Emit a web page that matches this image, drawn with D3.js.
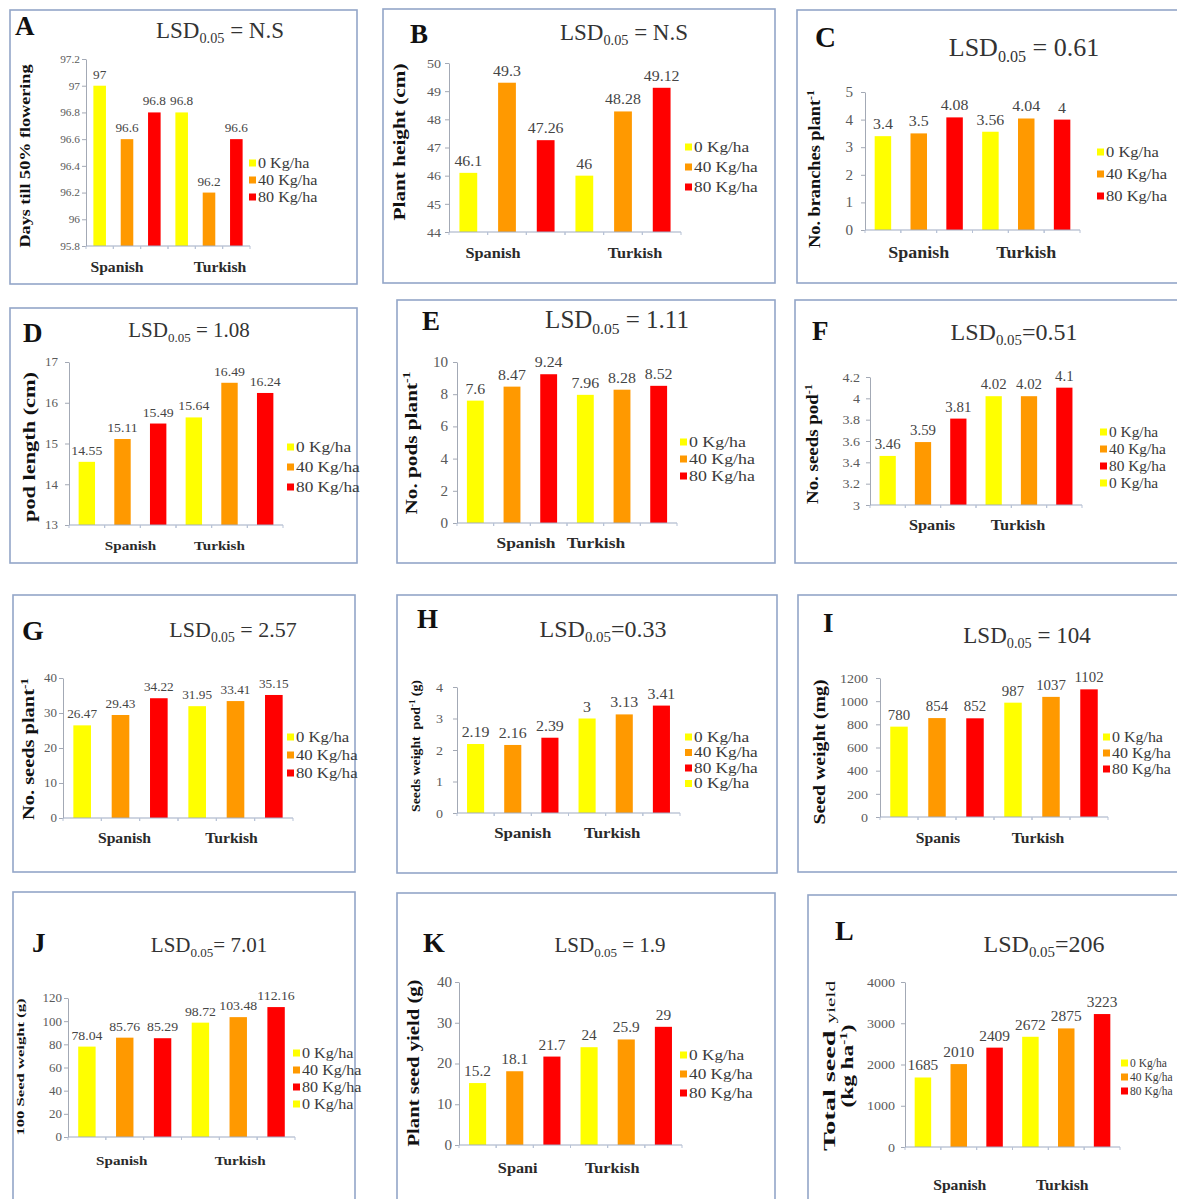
<!DOCTYPE html>
<html>
<head>
<meta charset="utf-8">
<script src="https://cdn.jsdelivr.net/npm/d3@7"></script>
<style>
  body { margin: 0; background: #fff; }
  text { font-family: "Liberation Serif", "Times New Roman", serif; white-space: pre; }
</style>
</head>
<body>
<script>
// data
var doseColors = ["#ffff00", "#ff9900", "#ff0000"];

var catsFull = ["Spanish", "Turkish"];
var catsF = ["Spanis", "Turkish"];
var catsI = ["Spanis", "Turkish"];
var catsK = ["Spani", "Turkish"];

var legend3 = ["0 Kg/ha", "40 Kg/ha", "80 Kg/ha"];
var legend3Idx = [0, 1, 2];
var legend4 = ["0 Kg/ha", "40 Kg/ha", "80 Kg/ha", "0 Kg/ha"];
var legend4Idx = [0, 1, 2, 0];

var panelLetters = ["A", "B", "C", "D", "E", "F", "G", "H", "I", "J", "K", "L"];
var lsdTexts = [" = N.S", " = N.S", " = 0.61", " = 1.08", " = 1.11", "=0.51",
                " = 2.57", "=0.33", " = 104", "= 7.01", " = 1.9", "=206"];

// [Spanish: 0, 40, 80], [Turkish: 0, 40, 80]
var valuesA = [[97, 96.6, 96.8], [96.8, 96.2, 96.6]];
var valuesB = [[46.1, 49.3, 47.26], [46, 48.28, 49.12]];
var valuesC = [[3.4, 3.5, 4.08], [3.56, 4.04, 4]];
var valuesD = [[14.55, 15.11, 15.49], [15.64, 16.49, 16.24]];
var valuesE = [[7.6, 8.47, 9.24], [7.96, 8.28, 8.52]];
var valuesF = [[3.46, 3.59, 3.81], [4.02, 4.02, 4.1]];
var valuesG = [[26.47, 29.43, 34.22], [31.95, 33.41, 35.15]];
var valuesH = [[2.19, 2.16, 2.39], [3, 3.13, 3.41]];
var valuesI = [[780, 854, 852], [987, 1037, 1102]];
var valuesJ = [[78.04, 85.76, 85.29], [98.72, 103.48, 112.16]];
var valuesK = [[15.2, 18.1, 21.7], [24, 25.9, 29]];
var valuesL = [[1685, 2010, 2409], [2672, 2875, 3223]];

var ticksA = ["95.8", "96", "96.2", "96.4", "96.6", "96.8", "97", "97.2"];
var ticksB = ["44", "45", "46", "47", "48", "49", "50"];
var ticksC = ["0", "1", "2", "3", "4", "5"];
var ticksD = ["13", "14", "15", "16", "17"];
var ticksE = ["0", "2", "4", "6", "8", "10"];
var ticksF = ["3", "3.2", "3.4", "3.6", "3.8", "4", "4.2"];
var ticksG = ["0", "10", "20", "30", "40"];
var ticksH = ["0", "1", "2", "3", "4"];
var ticksI = ["0", "200", "400", "600", "800", "1000", "1200"];
var ticksJ = ["0", "20", "40", "60", "80", "100", "120"];
var ticksK = ["0", "10", "20", "30", "40"];
var ticksL = ["0", "1000", "2000", "3000", "4000"];

// axis titles: lines of [text, kind]  kind 0 normal, 1 superscript, 2 small
var yTitleA = [[["Days till 50% flowering", 0]]];
var yTitleB = [[["Plant height (cm)", 0]]];
var yTitleC = [[["No. branches plant", 0], ["-1", 1]]];
var yTitleD = [[["pod length (cm)", 0]]];
var yTitleE = [[["No. pods plant", 0], ["-1", 1]]];
var yTitleF = [[["No. seeds pod", 0], ["-1", 1]]];
var yTitleG = [[["No. seeds plant", 0], ["-1", 1]]];
var yTitleH = [[["Seeds weight  pod", 0], ["-1", 1], [" (g)", 0]]];
var yTitleI = [[["Seed weight (mg)", 0]]];
var yTitleJ = [[["100 Seed weight (g)", 0]]];
var yTitleK = [[["Plant seed yield (g)", 0]]];
var yTitleL = [[["Total seed ", 0], ["yield", 2]], [["(kg ha", 0], ["-1", 1], [")", 0]]];

var panels = [
  {values: valuesA, ticks: ticksA, cats: catsFull, legend: legend3, legIdx: legend3Idx, yTitle: yTitleA},
  {values: valuesB, ticks: ticksB, cats: catsFull, legend: legend3, legIdx: legend3Idx, yTitle: yTitleB},
  {values: valuesC, ticks: ticksC, cats: catsFull, legend: legend3, legIdx: legend3Idx, yTitle: yTitleC},
  {values: valuesD, ticks: ticksD, cats: catsFull, legend: legend3, legIdx: legend3Idx, yTitle: yTitleD},
  {values: valuesE, ticks: ticksE, cats: catsFull, legend: legend3, legIdx: legend3Idx, yTitle: yTitleE},
  {values: valuesF, ticks: ticksF, cats: catsF, legend: legend4, legIdx: legend4Idx, yTitle: yTitleF},
  {values: valuesG, ticks: ticksG, cats: catsFull, legend: legend3, legIdx: legend3Idx, yTitle: yTitleG},
  {values: valuesH, ticks: ticksH, cats: catsFull, legend: legend4, legIdx: legend4Idx, yTitle: yTitleH},
  {values: valuesI, ticks: ticksI, cats: catsI, legend: legend3, legIdx: legend3Idx, yTitle: yTitleI},
  {values: valuesJ, ticks: ticksJ, cats: catsFull, legend: legend4, legIdx: legend4Idx, yTitle: yTitleJ},
  {values: valuesK, ticks: ticksK, cats: catsK, legend: legend3, legIdx: legend3Idx, yTitle: yTitleK},
  {values: valuesL, ticks: ticksL, cats: catsFull, legend: legend3, legIdx: legend3Idx, yTitle: yTitleL}
];

// layout: box, letter [x, baseline, size], title [cx, baseline, size], plot [x0, top, x1, bottom],
// tp tick padding, yt axis title, cat [baseline, shift0, shift1], leg [x, y0, dy, stretch], fs [tick, value, legend, cat]
var layout = [
  {box: [10, 10, 357, 284], letter: [15, 35, 27], title: [220, 38, 23], plot: [86, 59, 250, 246], tp: 2,
   yt: {x: [25], cy: 156, size: 15, len: [183]}, cat: [272, -10, 11], leg: [249, 163, 17, 1.15], fs: [10.5, 12.5, 14, 14]},
  {box: [383, 9, 775, 283], letter: [410, 43, 27], title: [624, 40, 23], plot: [449, 63, 681, 232], tp: 4,
   yt: {x: [399], cy: 142, size: 17, len: [157]}, cat: [258, -14, 12], leg: [685, 147, 20, 1.15], fs: [13, 15, 15, 14.5]},
  {box: [797, 10, 1185, 283], letter: [815, 47, 29], title: [1024, 56, 26], plot: [865, 92, 1080, 230], tp: 8,
   yt: {x: [815], cy: 169, size: 16, len: [158]}, cat: [258, 0, 0], leg: [1097, 152, 22, 1.1], fs: [14, 15, 15, 16]},
  {box: [10, 308, 357, 563], letter: [23, 342, 27], title: [189, 337, 21], plot: [69, 362, 283, 525], tp: 7,
   yt: {x: [30], cy: 447, size: 16, len: [150]}, cat: [550, 8, -10], leg: [287, 447, 20, 1.15], fs: [12, 13, 15, 13.5]},
  {box: [397, 300, 775, 563], letter: [422, 330, 27], title: [617, 328, 25], plot: [457, 362, 677, 523], tp: 5,
   yt: {x: [411], cy: 443, size: 17, len: [143]}, cat: [548, 14, -26], leg: [680, 442, 17, 1.15], fs: [14, 15, 15.5, 15.5]},
  {box: [795, 300, 1185, 563], letter: [812, 340, 27], title: [1014, 340, 24], plot: [870, 377, 1082, 505], tp: 6,
   yt: {x: [813], cy: 444, size: 16, len: [120]}, cat: [530, 9, -11], leg: [1100, 432, 17, 1.1], fs: [13, 14, 14, 14.5]},
  {box: [13, 595, 355, 872], letter: [22, 640, 28], title: [233, 637, 22], plot: [63, 678, 293, 818], tp: 2,
   yt: {x: [29], cy: 749, size: 16, len: [142]}, cat: [843, 4, -4], leg: [287, 737, 18, 1.15], fs: [12, 12.5, 14.5, 14]},
  {box: [397, 595, 777, 873], letter: [417, 628, 27], title: [603, 637, 24], plot: [457, 687, 680, 813], tp: 10,
   yt: {x: [416], cy: 746, size: 13, len: [132]}, cat: [838, 10, -12], leg: [685, 737, 15.5, 1.15], fs: [13, 15, 15, 15]},
  {box: [798, 595, 1185, 872], letter: [823, 632, 27], title: [1027, 643, 23], plot: [880, 678, 1108, 817], tp: 8,
   yt: {x: [820], cy: 752, size: 16, len: [145]}, cat: [843, 1, -13], leg: [1103, 737, 16, 1.1], fs: [13, 14, 14.5, 14]},
  {box: [13, 892, 355, 1210], letter: [32, 952, 27], title: [209, 952, 21], plot: [68, 998, 295, 1137], tp: 2,
   yt: {x: [20], cy: 1067, size: 11, len: [137]}, cat: [1165, -3, 2], leg: [293, 1053, 17, 1.15], fs: [12, 13, 14, 13.5]},
  {box: [397, 893, 775, 1210], letter: [423, 952, 28], title: [610, 952, 21], plot: [459, 982, 682, 1145], tp: 3,
   yt: {x: [414], cy: 1063, size: 16, len: [167]}, cat: [1173, 3, -14], leg: [680, 1055, 19, 1.15], fs: [14, 14.5, 15, 14.5]},
  {box: [808, 895, 1185, 1210], letter: [835, 940, 28], title: [1044, 952, 24], plot: [905, 982, 1120, 1147], tp: 6,
   yt: {x: [830, 848], cy: 1066, size: 16, len: [170, 83]}, cat: [1190, 1, -4], leg: [1121, 1063, 14, 1.0], fs: [13, 14.5, 11.5, 14]}
];

var serif = '"Liberation Serif", "Times New Roman", serif';

var svg = d3.select("body").append("svg")
    .attr("width", 1177)
    .attr("height", 1199)
    .style("display", "block");

svg.append("rect").attr("width", 1177).attr("height", 1199).attr("fill", "#fff");

// stretch text a little sideways, the scanned figure is wider than plain Times
function widen(sel, k) {
    if (k === 1) return;
    sel.each(function () {
        var w = this.getComputedTextLength();
        if (w > 0) d3.select(this).attr("textLength", w * k).attr("lengthAdjust", "spacingAndGlyphs");
    });
}

panels.forEach(function (p, i) {
    var L = layout[i];
    var g = svg.append("g");

    g.append("rect")
        .attr("x", L.box[0]).attr("y", L.box[1])
        .attr("width", L.box[2] - L.box[0]).attr("height", L.box[3] - L.box[1])
        .attr("fill", "#fff")
        .attr("stroke", "#93a6c8")
        .attr("stroke-width", 1.6);

    // panel letter
    g.append("text")
        .attr("x", L.letter[0]).attr("y", L.letter[1])
        .attr("font-size", L.letter[2])
        .attr("font-weight", "bold")
        .attr("fill", "#111")
        .text(panelLetters[i]);

    // LSD title
    var ts = L.title[2];
    var t = g.append("text")
        .attr("x", L.title[0]).attr("y", L.title[1])
        .attr("font-size", ts)
        .attr("text-anchor", "middle")
        .attr("fill", "#333");
    t.append("tspan").text("LSD");
    t.append("tspan").attr("font-size", ts * 0.62).attr("dy", ts * 0.22).text("0.05");
    t.append("tspan").attr("dy", -ts * 0.22).text(lsdTexts[i]);

    // scales
    var tv = p.ticks.map(Number);
    var y = d3.scaleLinear()
        .domain([tv[0], tv[tv.length - 1]])
        .range([L.plot[3], L.plot[1]]);
    var x0 = d3.scaleBand()
        .domain([0, 1])
        .range([L.plot[0], L.plot[2]]);
    var x1 = d3.scaleBand()
        .domain([0, 1, 2])
        .range([0, x0.bandwidth()])
        .paddingInner(0.54)
        .paddingOuter(0.27);

    var data = [];
    p.values.forEach(function (row, ci) {
        row.forEach(function (v, si) {
            data.push({c: ci, s: si, v: v});
        });
    });

    // y axis
    var ya = g.append("g")
        .attr("transform", "translate(" + L.plot[0] + ",0)")
        .call(d3.axisLeft(y)
            .tickValues(tv)
            .tickFormat(function (d, k) { return p.ticks[k]; })
            .tickSize(4)
            .tickSizeOuter(0)
            .tickPadding(L.tp));
    ya.select(".domain").attr("stroke", "#a3a9b5");
    ya.selectAll(".tick line").attr("stroke", "#a3a9b5");
    ya.selectAll(".tick text")
        .attr("font-family", serif)
        .attr("font-size", L.fs[0])
        .attr("fill", "#5a5a5a")
        .call(widen, 1.08);

    // bars
    g.selectAll(".bar")
        .data(data)
        .enter()
        .append("rect")
        .attr("class", "bar")
        .attr("x", function (d) { return x0(d.c) + x1(d.s); })
        .attr("width", x1.bandwidth())
        .attr("y", function (d) { return y(d.v); })
        .attr("height", function (d) { return y(tv[0]) - y(d.v); })
        .attr("fill", function (d) { return doseColors[d.s]; });

    // x axis line with small ticks between bars
    var yb = y(tv[0]);
    g.append("line")
        .attr("x1", L.plot[0]).attr("x2", L.plot[2])
        .attr("y1", yb).attr("y2", yb)
        .attr("stroke", "#9fabc2");
    var tx = [];
    data.forEach(function (d) {
        var cx = x0(d.c) + x1(d.s) + x1.bandwidth() / 2;
        tx.push(cx - x1.step() / 2, cx + x1.step() / 2);
    });
    g.selectAll(".xt")
        .data(tx)
        .enter()
        .append("line")
        .attr("x1", function (d) { return d; })
        .attr("x2", function (d) { return d; })
        .attr("y1", yb).attr("y2", yb + 3)
        .attr("stroke", "#b7c2d6");

    // value labels
    g.selectAll(".val")
        .data(data)
        .enter()
        .append("text")
        .attr("x", function (d) { return x0(d.c) + x1(d.s) + x1.bandwidth() / 2; })
        .attr("y", function (d) { return y(d.v) - 7; })
        .attr("text-anchor", "middle")
        .attr("font-size", L.fs[1])
        .attr("fill", "#454545")
        .text(function (d) { return String(d.v); })
        .call(widen, 1.06);

    // category labels
    g.selectAll(".cat")
        .data(p.cats)
        .enter()
        .append("text")
        .attr("x", function (d, k) { return x0(k) + x0.bandwidth() / 2 + L.cat[k + 1]; })
        .attr("y", L.cat[0])
        .attr("text-anchor", "middle")
        .attr("font-size", L.fs[3])
        .attr("font-weight", "bold")
        .attr("fill", "#2a2a2a")
        .text(function (d) { return d; })
        .call(widen, 1.12);

    // legend
    p.legend.forEach(function (name, k) {
        var cy = L.leg[1] + k * L.leg[2];
        g.append("rect")
            .attr("x", L.leg[0]).attr("y", cy - 3.5)
            .attr("width", 7).attr("height", 7)
            .attr("fill", doseColors[p.legIdx[k]]);
        g.append("text")
            .attr("x", L.leg[0] + 9)
            .attr("y", cy + L.fs[2] * 0.33)
            .attr("font-size", L.fs[2])
            .attr("fill", "#3a3a3a")
            .text(name)
            .call(widen, L.leg[3]);
    });

    // y axis title (rotated)
    var ys = L.yt.size;
    p.yTitle.forEach(function (line, li) {
        var tt = g.append("text")
            .attr("transform", "translate(" + (L.yt.x[li] + ys * 0.33) + "," + L.yt.cy + ") rotate(-90)")
            .attr("text-anchor", "middle")
            .attr("font-size", ys)
            .attr("font-weight", "bold")
            .attr("fill", "#111");
        var off = 0;
        line.forEach(function (seg) {
            var sp = tt.append("tspan").text(seg[0]);
            if (seg[1] === 1) {
                sp.attr("font-size", ys * 0.65).attr("dy", -ys * 0.4 - off);
                off = -ys * 0.4;
            } else {
                if (off !== 0) sp.attr("dy", -off);
                off = 0;
                if (seg[1] === 2) sp.attr("font-size", ys * 0.75).attr("font-weight", "normal");
            }
        });
        tt.attr("textLength", L.yt.len[li]).attr("lengthAdjust", "spacingAndGlyphs");
    });
});
</script>
</body>
</html>
